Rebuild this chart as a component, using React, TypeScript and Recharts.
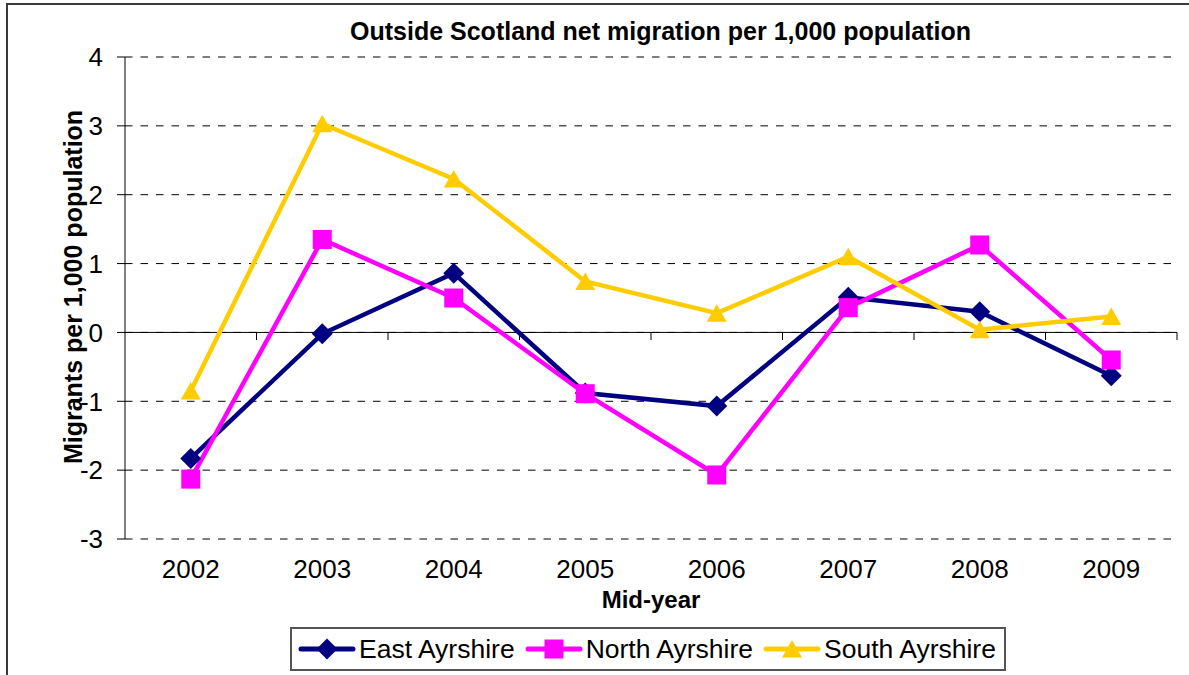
import React from 'react';
import { LineChart, Line, XAxis, YAxis, CartesianGrid, ReferenceLine, Legend } from 'recharts';

const years = ['2002', '2003', '2004', '2005', '2006', '2007', '2008', '2009'];
const eastAyrshire = [-1.83, -0.02, 0.86, -0.88, -1.07, 0.51, 0.3, -0.63];
const northAyrshire = [-2.13, 1.35, 0.5, -0.89, -2.07, 0.36, 1.27, -0.4];
const southAyrshire = [-0.85, 3.03, 2.23, 0.74, 0.28, 1.1, 0.04, 0.23];
const yTicks = [-3, -2, -1, 0, 1, 2, 3, 4];
const seriesNames = ['East Ayrshire', 'North Ayrshire', 'South Ayrshire'];
const seriesKeys = ['east', 'north', 'south'];
const seriesColors = ['#000080', '#FF00FF', '#FFCC00'];
const seriesShapes = ['diamond', 'square', 'triangle'];
const titleText = 'Outside Scotland net migration per 1,000 population';
const yLabelText = 'Migrants per 1,000 population';
const xLabelText = 'Mid-year';

const FONT = "'Liberation Sans', Arial, Helvetica, sans-serif";

const data = years.map((y, i) => ({
  x: i + 0.5,
  year: y,
  east: eastAyrshire[i],
  north: northAyrshire[i],
  south: southAyrshire[i],
}));
const xTicks = years.map((_, i) => i + 0.5);
const boundaries = years.map((_, i) => i + 1);

function Marker({ shape, cx, cy, color }: { shape: string; cx: number; cy: number; color: string }) {
  if (cx == null || cy == null) return null;
  if (shape === 'diamond') {
    return <polygon points={`${cx},${cy - 10.5} ${cx + 10.5},${cy} ${cx},${cy + 10.5} ${cx - 10.5},${cy}`} fill={color} />;
  }
  if (shape === 'square') {
    return <rect x={cx - 9.5} y={cy - 9.5} width={19} height={19} fill={color} />;
  }
  return <polygon points={`${cx},${cy - 9} ${cx + 10},${cy + 8.5} ${cx - 10},${cy + 8.5}`} fill={color} />;
}

function LegendBox() {
  return (
    <div
      style={{
        boxSizing: 'border-box',
        width: 716,
        height: 44,
        border: '2px solid #555',
        background: '#fff',
        display: 'flex',
        alignItems: 'center',
        paddingLeft: 6,
        fontFamily: FONT,
        fontSize: 26.5,
        color: '#000',
        whiteSpace: 'nowrap',
      }}
    >
      {seriesNames.map((name, i) => (
        <div key={name} style={{ display: 'flex', alignItems: 'center', marginRight: 10 }}>
          <svg width={58} height={26} style={{ display: 'block' }}>
            <line x1={3} x2={55} y1={13} y2={13} stroke={seriesColors[i]} strokeWidth={5} strokeLinecap="round" />
            <Marker shape={seriesShapes[i]} cx={29} cy={13} color={seriesColors[i]} />
          </svg>
          <span style={{ marginLeft: 3, lineHeight: '26px' }}>{name}</span>
        </div>
      ))}
    </div>
  );
}

export default function App() {
  return (
    <div style={{ position: 'absolute', left: 0, top: 0, width: 1189, height: 675, overflow: 'hidden', background: '#fff' }}>
      <div
        style={{
          position: 'absolute',
          left: 6,
          top: 3,
          width: 1300,
          height: 800,
          border: '2px solid #3a3a3a',
          boxSizing: 'border-box',
        }}
      />
      <div
        style={{
          position: 'absolute',
          left: 0,
          top: 19,
          width: 1321,
          textAlign: 'center',
          fontFamily: FONT,
          fontSize: 25,
          fontWeight: 'bold',
          lineHeight: '24px',
          color: '#000',
          whiteSpace: 'nowrap',
        }}
      >
        {titleText}
      </div>
      <div style={{ position: 'absolute', left: 0, top: 0 }}>
        <LineChart
          width={1189}
          height={675}
          data={data}
          margin={{ top: 57, right: 12, bottom: 4, left: 0 }}
          style={{ fontFamily: FONT }}
        >
          <CartesianGrid horizontal vertical={false} stroke="#000" strokeDasharray="7.5 8" />
          <XAxis
            dataKey="x"
            type="number"
            domain={[0, 8]}
            ticks={xTicks}
            interval={0}
            tickFormatter={(v: number) => years[Math.round(v - 0.5)]}
            axisLine={false}
            tickLine={false}
            tickSize={8}
            tickMargin={13}
            height={88}
            tick={{ fill: '#000', fontSize: 26 }}
            label={{ value: xLabelText, position: 'insideBottom', offset: 19, fill: '#000', fontSize: 24, fontWeight: 'bold' }}
          />
          <YAxis
            type="number"
            domain={[-3, 4]}
            ticks={yTicks}
            interval={0}
            width={125}
            axisLine={{ stroke: '#000' }}
            tickLine={{ stroke: '#000' }}
            tickSize={8}
            tickMargin={14}
            tick={{ fill: '#000', fontSize: 26 }}
            label={{
              content: (props: any) => {
                const vb = props.viewBox || { x: 0, y: 57, width: 125, height: 482 };
                const cx = vb.x + 82;
                const cy = vb.y + vb.height / 2 - 11;
                return (
                  <text
                    x={cx}
                    y={cy}
                    transform={`rotate(-90, ${cx}, ${cy})`}
                    textAnchor="middle"
                    fontSize={25}
                    fontWeight="bold"
                    fill="#000"
                    fontFamily={FONT}
                  >
                    {yLabelText}
                  </text>
                );
              },
            }}
          />
          <ReferenceLine y={0} stroke="#000" strokeWidth={1} />
          {boundaries.map((b) => (
            <ReferenceLine
              key={`tick-${b}`}
              segment={[
                { x: b, y: 0 },
                { x: b, y: -0.11 },
              ]}
              stroke="#000"
              strokeWidth={1}
            />
          ))}
          <Legend
            verticalAlign="bottom"
            content={() => <LegendBox />}
            wrapperStyle={{ left: 290, bottom: 4, width: 716, height: 44 }}
          />
          {seriesKeys.map((k, i) => (
            <Line
              key={k}
              type="linear"
              dataKey={k}
              name={seriesNames[i]}
              stroke={seriesColors[i]}
              strokeWidth={4.5}
              isAnimationActive={false}
              activeDot={false}
              dot={(p: any) => (
                <Marker key={`${k}-${p.index}`} shape={seriesShapes[i]} cx={p.cx} cy={p.cy} color={seriesColors[i]} />
              )}
            />
          ))}
        </LineChart>
      </div>
    </div>
  );
}
